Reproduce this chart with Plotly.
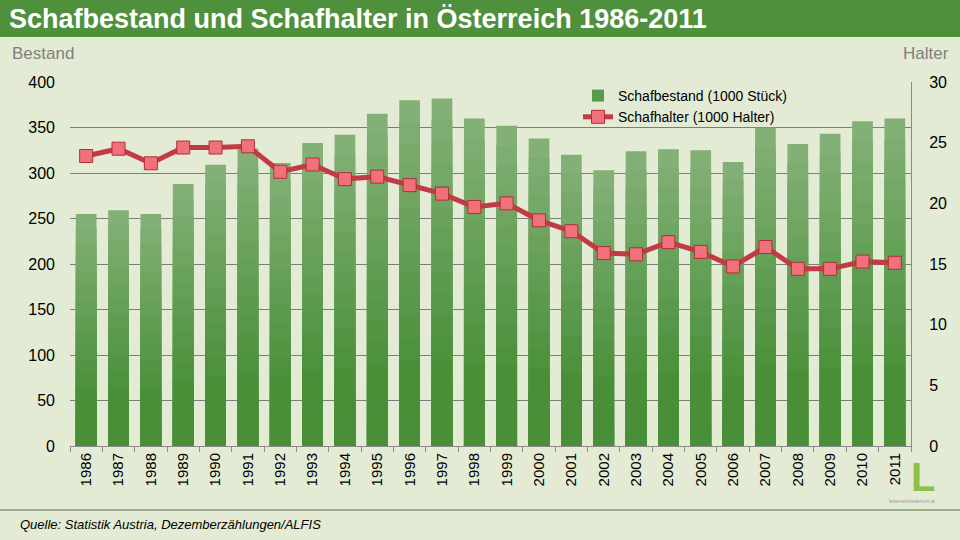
import plotly.graph_objects as go

years = [str(y) for y in range(1986, 2012)]
bestand = [255, 259, 255, 288, 309, 327, 311, 333, 342, 365, 380, 382, 360,
           352, 338, 320, 303, 324, 326, 325, 312, 350, 332, 343, 357, 360]
halter = [23.9, 24.5, 23.3, 24.6, 24.6, 24.7, 22.6, 23.2, 22.0, 22.2, 21.5,
          20.8, 19.7, 20.0, 18.6, 17.7, 15.9, 15.8, 16.8, 16.0, 14.8, 16.4,
          14.6, 14.6, 15.2, 15.1]
left_ticks = list(range(0, 401, 50))
right_ticks = list(range(0, 31, 5))

W, H = 960, 540
L, R, T, B = 70, 49, 82, 94
PW, PH = W - L - R, H - T - B

def px(x):
    return (x - L) / PW

def py(y):
    return (H - B - y) / PH

FONT = "Liberation Sans, Arial, sans-serif"
BG = "#e3ebd4"

fig = go.Figure()

# gradient bars: overlay of progressively shorter, darker bars
N = 16
top_c = (130, 176, 118)
bot_c = (72, 143, 56)
for k in range(N):
    t = min(1.0, (k / (N - 1)) * 1.25)
    c = tuple(round(top_c[i] + (bot_c[i] - top_c[i]) * t) for i in range(3))
    frac = 1 - k / N
    fig.add_trace(go.Bar(
        x=years, y=[v * frac for v in bestand],
        marker=dict(color="rgb(%d,%d,%d)" % c, line=dict(width=0)),
        name="Schafbestand (1000 Stück)",
        showlegend=(k == N // 2),
        legendgroup="bestand",
        hoverinfo="skip" if k else None,
    ))

fig.add_trace(go.Scatter(
    x=years, y=halter, yaxis="y2", mode="lines+markers",
    name="Schafhalter (1000 Halter)",
    line=dict(color="#c23a43", width=5),
    marker=dict(symbol="square", size=13, color="#f0717c",
                line=dict(color="#b22e37", width=1)),
))

fig.update_layout(
    width=W, height=H,
    margin=dict(l=L, r=R, t=T, b=B, autoexpand=False),
    paper_bgcolor=BG, plot_bgcolor=BG,
    barmode="overlay", bargap=0.36,
    font=dict(family=FONT, color="#000000"),
    title=dict(text="<b>Schafbestand und Schafhalter in Österreich 1986-2011</b>",
               x=9 / W, xanchor="left", xref="container",
               y=1 - 19 / H, yanchor="middle", yref="container",
               font=dict(family=FONT, size=27, color="#ffffff")),
    xaxis=dict(type="category", range=[-0.5, len(years) - 0.5],
               tickangle=-90, tickfont=dict(size=15),
               showline=True, linecolor="#8a8a8a", linewidth=1,
               ticks="outside", tickson="boundaries", ticklen=5,
               tickcolor="#8a8a8a", showgrid=False),
    yaxis=dict(range=[0, 400], tickvals=left_ticks, tickfont=dict(size=16),
               showgrid=True, gridcolor="#7d7d7d", gridwidth=1,
               zeroline=False, showline=False, ticks="", ticklabelstandoff=14),
    yaxis2=dict(range=[0, 30], tickvals=right_ticks, overlaying="y",
                side="right", tickfont=dict(size=16), showgrid=False,
                zeroline=False, showline=True, linecolor="#8a8a8a",
                ticks="", ticklabelstandoff=14),
    legend=dict(x=px(578), y=py(80), xanchor="left", yanchor="top",
                bgcolor="rgba(0,0,0,0)", font=dict(size=14),
                tracegroupgap=0, itemwidth=30),
    showlegend=True,
)

# title bar
fig.add_shape(type="rect", xref="paper", yref="paper", layer="below",
              x0=px(0), x1=px(W), y0=py(37), y1=py(0),
              fillcolor="#4f903d", line=dict(width=0))
# footer line
fig.add_shape(type="line", xref="paper", yref="paper",
              x0=px(0), x1=px(W), y0=py(510), y1=py(510),
              line=dict(color="#7f9a72", width=1.5))

fig.add_annotation(text="Bestand", xref="paper", yref="paper",
                   x=px(10), y=py(53), xanchor="left", yanchor="middle",
                   showarrow=False, font=dict(size=17, color="#808080"))
fig.add_annotation(text="Halter", xref="paper", yref="paper",
                   x=px(951), y=py(53), xanchor="right", yanchor="middle",
                   showarrow=False, font=dict(size=17, color="#808080"))
fig.add_annotation(text="<i>Quelle: Statistik Austria, Dezemberzählungen/ALFIS</i>",
                   xref="paper", yref="paper", x=px(18), y=py(524),
                   xanchor="left", yanchor="middle", showarrow=False,
                   font=dict(size=13, color="#000000"))
fig.add_annotation(text="<b>L</b>", xref="paper", yref="paper",
                   x=px(923), y=py(477), xanchor="center", yanchor="middle",
                   showarrow=False, font=dict(size=40, color="#8cc04a"))
fig.add_annotation(text="lebensministerium.at", xref="paper", yref="paper",
                   x=px(912), y=py(501), xanchor="center", yanchor="middle",
                   showarrow=False, font=dict(size=5, color="#9a9a9a"))

fig.write_html("out.html", config={"displayModeBar": False},
               post_script="document.body.style.margin='0';")
